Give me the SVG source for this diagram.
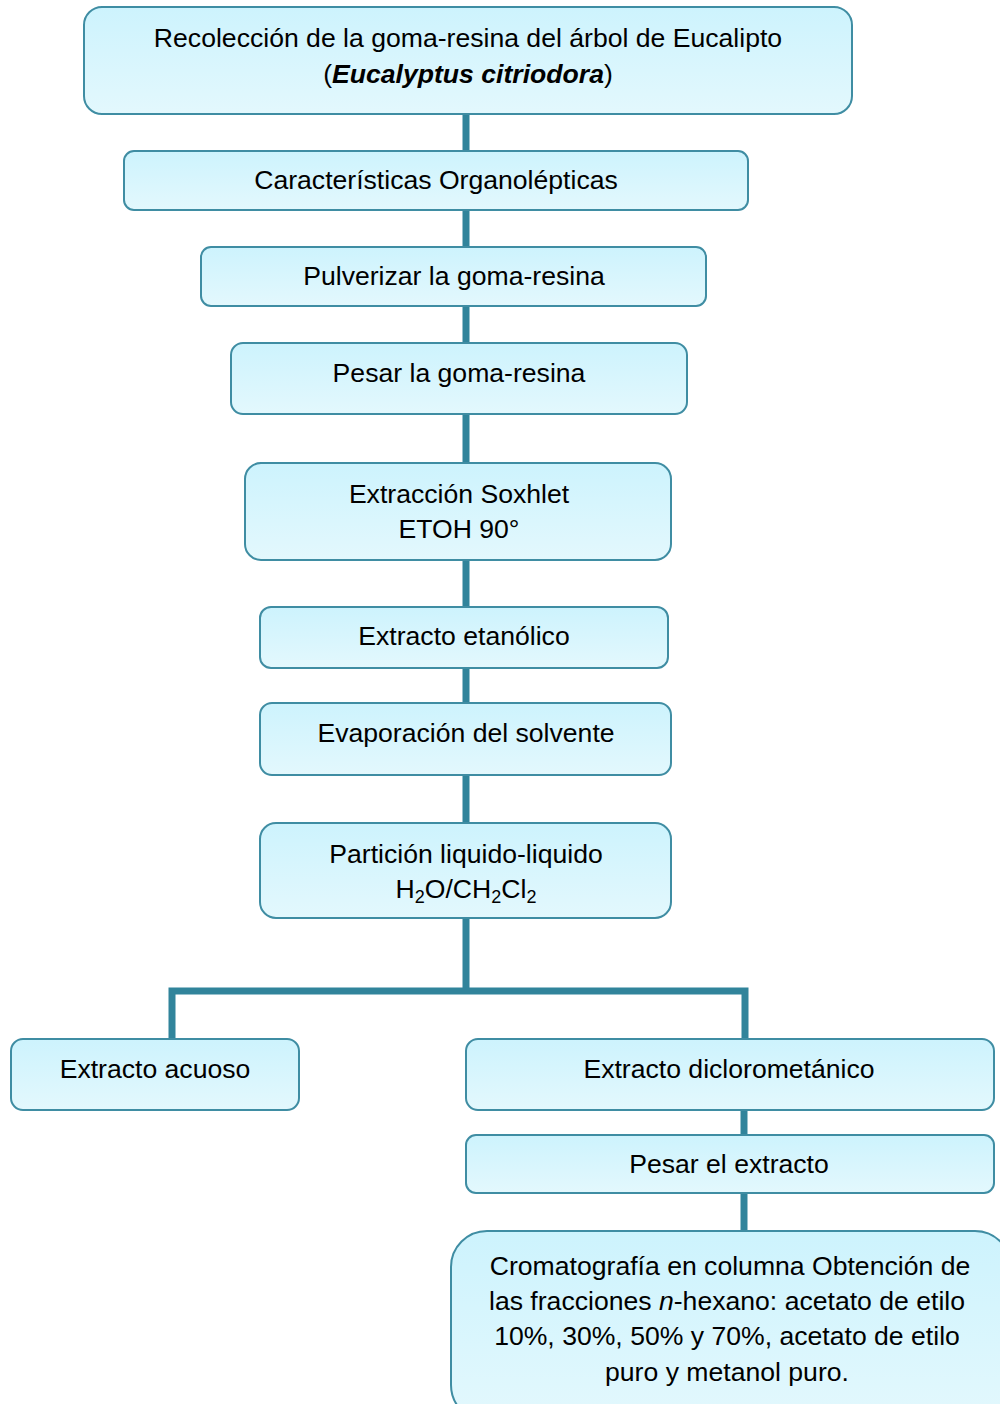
<svg xmlns="http://www.w3.org/2000/svg" width="1000" height="1404" viewBox="0 0 1000 1404">
<defs>
<linearGradient id="g" x1="0" y1="0" x2="0" y2="1">
<stop offset="0" stop-color="#cdf3fd"/>
<stop offset="1" stop-color="#e3f8fd"/>
</linearGradient>
<style>
.box{fill:url(#g);stroke:#3f8da3;stroke-width:2}
.t{font-family:"Liberation Sans",Arial,sans-serif;font-size:26.6px;fill:#000;text-anchor:middle}
.c{fill:none;stroke:#31849b;stroke-width:7}
.s{font-size:18px}
</style>
</defs>
<rect width="1000" height="1404" fill="#fff"/>
<g id="connectors">
<path class="c" d="M466 110 V991"/>
<path class="c" d="M172 1039 V991 H745 V1039"/>
<path class="c" d="M744 1108 V1137"/>
<path class="c" d="M744 1190 V1233"/>
</g>
<g id="n1"><rect class="box" x="84" y="7" width="768" height="107" rx="18"/>
<text class="t" x="468" y="47">Recolección de la goma-resina del árbol de Eucalipto</text>
<text class="t" x="468" y="83">(<tspan font-weight="bold" font-style="italic">Eucalyptus citriodora</tspan>)</text></g>
<g id="n2"><rect class="box" x="124" y="151" width="624" height="59" rx="10"/>
<text class="t" x="436" y="189">Características Organolépticas</text></g>
<g id="n3"><rect class="box" x="201" y="247" width="505" height="59" rx="10"/>
<text class="t" x="454" y="285">Pulverizar la goma-resina</text></g>
<g id="n4"><rect class="box" x="231" y="343" width="456" height="71" rx="12"/>
<text class="t" x="459" y="382">Pesar la goma-resina</text></g>
<g id="n5"><rect class="box" x="245" y="463" width="426" height="97" rx="16"/>
<text class="t" x="459" y="503">Extracción Soxhlet</text>
<text class="t" x="459" y="538">ETOH 90°</text></g>
<g id="n6"><rect class="box" x="260" y="607" width="408" height="61" rx="11"/>
<text class="t" x="464" y="645">Extracto etanólico</text></g>
<g id="n7"><rect class="box" x="260" y="703" width="411" height="72" rx="12"/>
<text class="t" x="466" y="742">Evaporación del solvente</text></g>
<g id="n8"><rect class="box" x="260" y="823" width="411" height="95" rx="16"/>
<text class="t" x="466" y="863">Partición liquido-liquido</text>
<text class="t" x="466" y="898">H<tspan class="s" dy="5">2</tspan><tspan dy="-5">O/CH</tspan><tspan class="s" dy="5">2</tspan><tspan dy="-5">Cl</tspan><tspan class="s" dy="5">2</tspan></text></g>
<g id="n9"><rect class="box" x="11" y="1039" width="288" height="71" rx="12"/>
<text class="t" x="155" y="1078">Extracto acuoso</text></g>
<g id="n10"><rect class="box" x="466" y="1039" width="528" height="71" rx="12"/>
<text class="t" x="729" y="1078">Extracto diclorometánico</text></g>
<g id="n11"><rect class="box" x="466" y="1135" width="528" height="58" rx="10"/>
<text class="t" x="729" y="1173">Pesar el extracto</text></g>
<g id="n12"><rect class="box" x="451" y="1231" width="560" height="190" rx="36"/>
<text class="t" x="730" y="1275">Cromatografía en columna Obtención de</text>
<text class="t" x="727" y="1310">las fracciones <tspan font-style="italic">n</tspan>-hexano: acetato de etilo</text>
<text class="t" x="727" y="1345">10%, 30%, 50% y 70%, acetato de etilo</text>
<text class="t" x="727" y="1381">puro y metanol puro.</text></g>
</svg>
